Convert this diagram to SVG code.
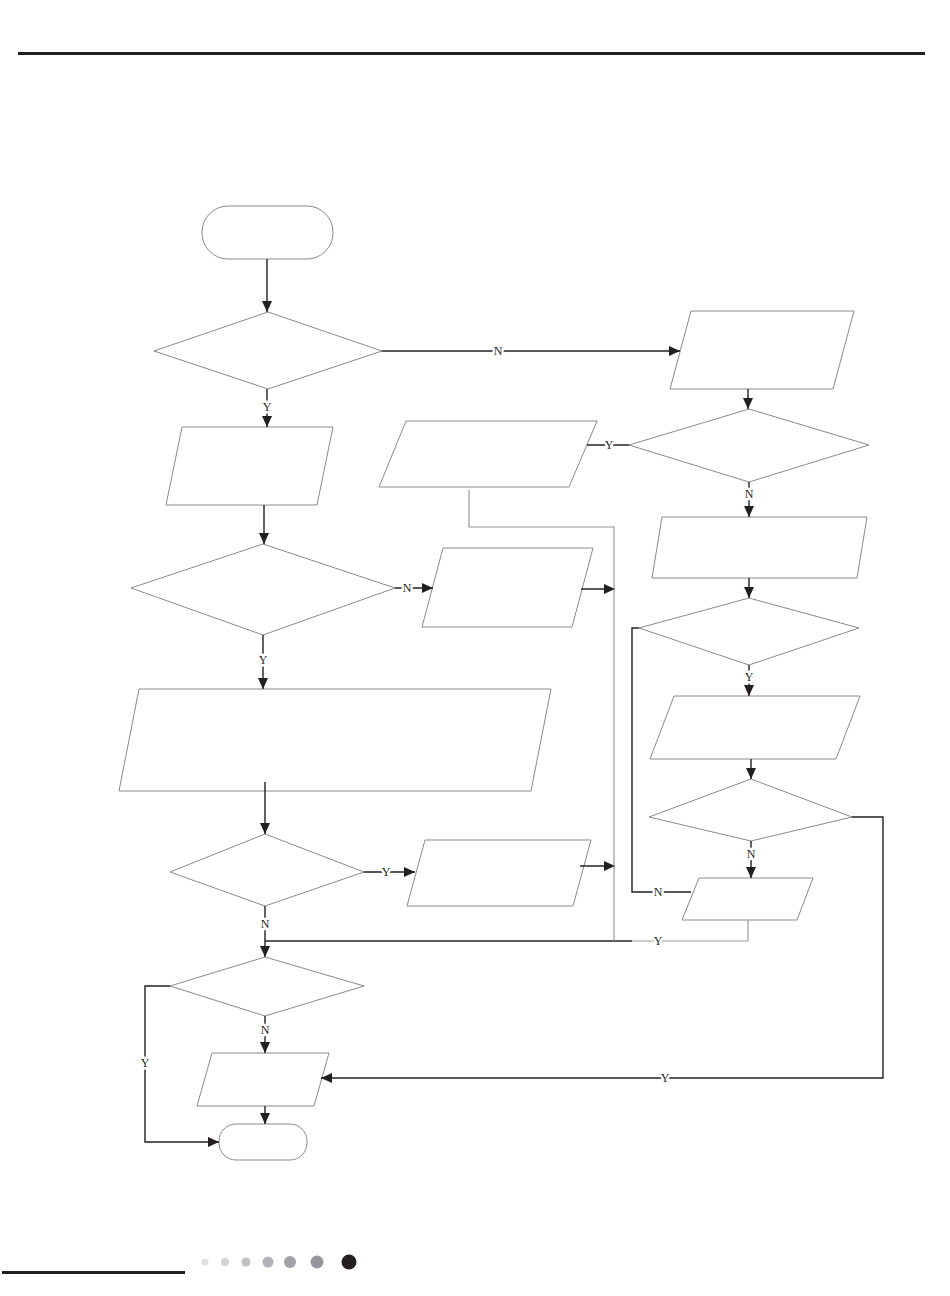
<svg xmlns="http://www.w3.org/2000/svg" width="950" height="1296" viewBox="0 0 950 1296">
<style>
.s{fill:#fff;stroke:#8a8a8a;stroke-width:1}
.c{fill:none;stroke:#231f20;stroke-width:1.4}
.g{fill:none;stroke:#9a9a9a;stroke-width:1.2}
.a{marker-end:url(#ah)}
.l{font-family:"Liberation Serif",serif;font-size:12px;fill:#231f20;text-anchor:middle;stroke:#fff;stroke-width:5px;paint-order:stroke;stroke-linejoin:round}
</style>
<defs>
<marker id="ah" viewBox="0 0 11 10" refX="11" refY="5" markerWidth="11" markerHeight="10" markerUnits="userSpaceOnUse" orient="auto">
<path d="M0,0 L11,5 L0,10 z" fill="#231f20"/>
</marker>
</defs>
<rect width="950" height="1296" fill="#fff"/>
<rect x="18" y="52" width="907" height="3" fill="#231f20"/>

<g id="nodes">
<g id="start"><rect class="s" x="202" y="206" width="131" height="53" rx="26" ry="26"/></g>
<g id="d1"><polygon class="s" points="268,312 382,351 268,389 154,351"/></g>
<g id="p1"><polygon class="s" points="182,427 333,427 317,505 166,505"/></g>
<g id="p2"><polygon class="s" points="691,311 854,311 833,389 670,389"/></g>
<g id="d3"><polygon class="s" points="749,409 869,445 749,482 629,445"/></g>
<g id="p3"><polygon class="s" points="406,421 597,421 569,487 379,487"/></g>
<g id="p4"><polygon class="s" points="662,517 867,517 857,578 652,578"/></g>
<g id="d2"><polygon class="s" points="263,544 395,588 263,635 131,588"/></g>
<g id="p5"><polygon class="s" points="443,548 593,548 572,627 422,627"/></g>
<g id="d6"><polygon class="s" points="749,598 859,628 749,665 639,628"/></g>
<g id="p7"><polygon class="s" points="674,696 860,696 836,759 650,759"/></g>
<g id="bigp"><polygon class="s" points="139,689 551,689 531,791 119,791"/></g>
<g id="d7"><polygon class="s" points="751,779 852,817 751,841 649,817"/></g>
<g id="d4"><polygon class="s" points="265,834 364,872 265,906 170,872"/></g>
<g id="p6"><polygon class="s" points="425,840 591,840 573,906 407,906"/></g>
<g id="p8"><polygon class="s" points="699,878 813,878 797,920 682,920"/></g>
<g id="d5"><polygon class="s" points="265,957 364,986 265,1016 170,986"/></g>
<g id="p9"><polygon class="s" points="212,1053 329,1053 314,1106 197,1106"/></g>
<g id="end"><rect class="s" x="219" y="1124" width="88" height="36" rx="17" ry="17"/></g>
</g>

<g id="connectors">
<line class="c a" x1="267" y1="259" x2="267" y2="312"/>
<line class="c a" x1="382" y1="351" x2="680" y2="351"/>
<line class="c a" x1="267" y1="389" x2="267" y2="427"/>
<line class="c a" x1="264" y1="505" x2="264" y2="544"/>
<line class="c a" x1="395" y1="588" x2="433" y2="588"/>
<line class="c a" x1="263" y1="635" x2="263" y2="689"/>
<line class="c a" x1="265" y1="782" x2="265" y2="834"/>
<line class="c a" x1="364" y1="872" x2="415" y2="872"/>
<line class="c a" x1="265" y1="906" x2="265" y2="957"/>
<polyline class="c" points="265,941 632,941"/>
<polyline class="g" points="632,941 748,941 748,920"/>
<line class="c a" x1="581" y1="589" x2="615" y2="589"/>
<line class="c a" x1="580" y1="866" x2="615" y2="866"/>
<polyline class="g" points="469,490 469,527 614,527 614,941"/>
<line class="c a" x1="748" y1="389" x2="748" y2="409"/>
<line class="c" x1="629" y1="445" x2="587" y2="445"/>
<line class="c a" x1="749" y1="482" x2="749" y2="517"/>
<line class="c a" x1="749" y1="578" x2="749" y2="598"/>
<line class="c a" x1="749" y1="665" x2="749" y2="696"/>
<polyline class="c" points="639,628 632,628 632,892 691,892"/>
<line class="c a" x1="751" y1="759" x2="751" y2="779"/>
<line class="c a" x1="751" y1="841" x2="751" y2="878"/>
<polyline class="c a" points="852,817 883,817 883,1078 321,1078"/>
<polyline class="c a" points="170,986 145,986 145,1142 219,1142"/>
<line class="c a" x1="265" y1="1016" x2="265" y2="1053"/>
<line class="c a" x1="265" y1="1106" x2="265" y2="1124"/>
</g>

<g id="labels">
<text class="l" x="498" y="355">N</text>
<text class="l" x="267" y="411">Y</text>
<text class="l" x="407" y="592">N</text>
<text class="l" x="263" y="664">Y</text>
<text class="l" x="386" y="876">Y</text>
<text class="l" x="265" y="928">N</text>
<text class="l" x="658" y="945">Y</text>
<text class="l" x="609" y="449">Y</text>
<text class="l" x="749" y="498">N</text>
<text class="l" x="749" y="681">Y</text>
<text class="l" x="658" y="896">N</text>
<text class="l" x="751" y="858">N</text>
<text class="l" x="665" y="1082">Y</text>
<text class="l" x="145" y="1067">Y</text>
<text class="l" x="265" y="1034">N</text>
</g>

<g id="footer">
<rect x="2" y="1271" width="183" height="3" fill="#231f20"/>
<circle cx="205" cy="1262" r="3.5" fill="#e2e2e4"/>
<circle cx="225" cy="1262" r="4" fill="#d2d2d5"/>
<circle cx="246" cy="1262" r="4.5" fill="#c2c2c6"/>
<circle cx="268" cy="1262" r="5.5" fill="#b2b3b8"/>
<circle cx="290" cy="1262" r="6" fill="#a3a4aa"/>
<circle cx="317" cy="1262" r="6.5" fill="#94969c"/>
<circle cx="349" cy="1262" r="7.5" fill="#231f20"/>
</g>
</svg>
